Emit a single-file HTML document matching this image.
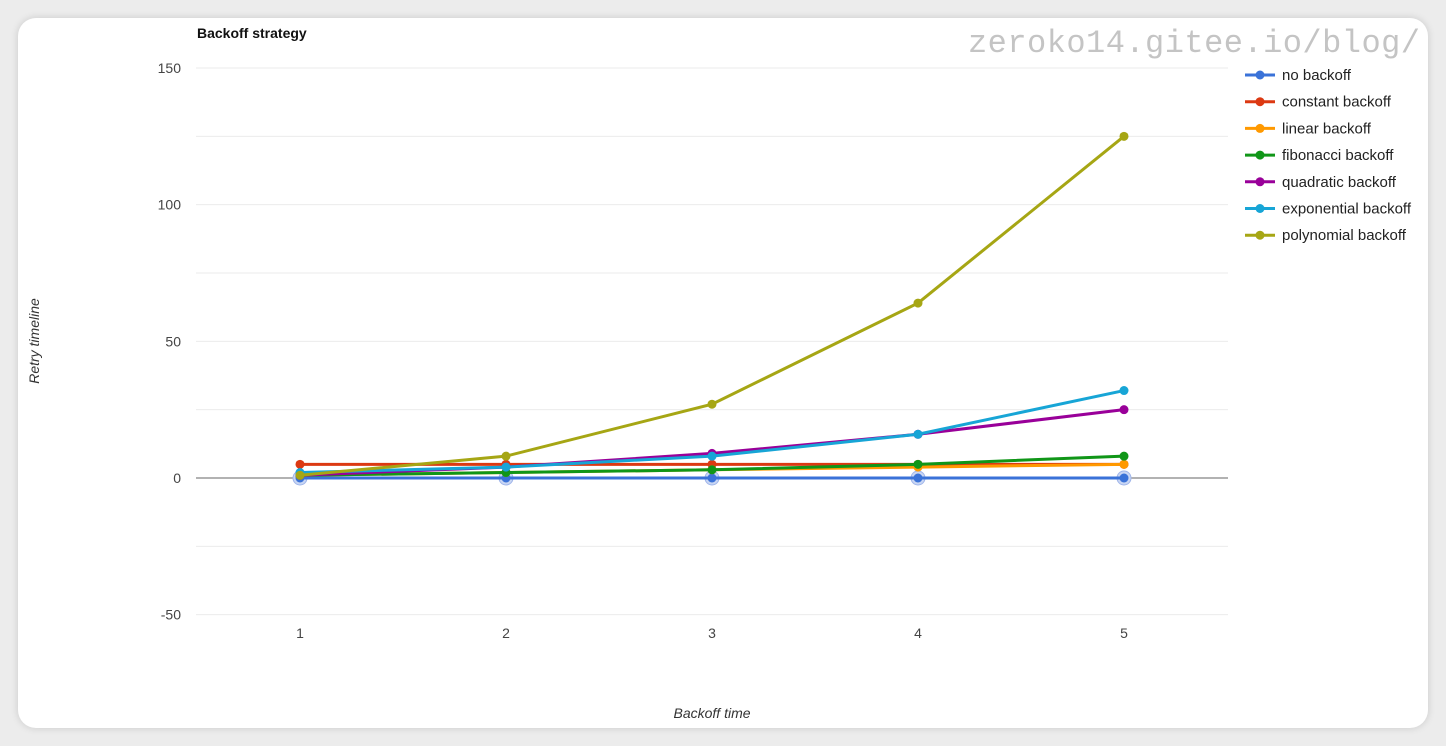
<!DOCTYPE html>
<html><head><meta charset="utf-8"><style>
body{margin:0;background:#ececec;width:1446px;height:746px;overflow:hidden;font-family:"Liberation Sans",sans-serif}
#card{position:absolute;left:18px;top:18px;width:1410px;height:710px;background:#fff;border-radius:18px;box-shadow:0 0 8px rgba(0,0,0,.15)}
</style></head><body>
<div id="card"></div>
<svg id="chart" width="1446" height="746" style="position:absolute;left:0;top:0"></svg>
<script>
const xCats=[1,2,3,4,5];
const seriesNames=["no backoff","constant backoff","linear backoff","fibonacci backoff","quadratic backoff","exponential backoff","polynomial backoff"];
const colors=["#3a72d8","#dc3912","#ff9900","#109618","#990099","#17a5d6","#a6a614"];
const noBackoff=[0,0,0,0,0];
const constantBackoff=[5,5,5,5,5];
const linearBackoff=[1,2,3,4,5];
const fibonacciBackoff=[1,2,3,5,8];
const quadraticBackoff=[1,4,9,16,25];
const exponentialBackoff=[2,4,8,16,32];
const polynomialBackoff=[1,8,27,64,125];
const yTicks=[150,100,50,0,-50];
const yGrid=[150,125,100,75,50,25,0,-25,-50];
const series=[noBackoff,constantBackoff,linearBackoff,fibonacciBackoff,quadraticBackoff,exponentialBackoff,polynomialBackoff];
const NS="http://www.w3.org/2000/svg";
const svg=document.getElementById('chart');
const X=v=>300+(v-1)*206;
const Y=v=>478-v*2.7333;
function mk(t,a,p){const e=document.createElementNS(NS,t);for(const k in a)e.setAttribute(k,a[k]);(p||svg).appendChild(e);return e;}
let t=mk('text',{x:197,y:38,'font-size':14,'font-weight':'bold',fill:'#111'});t.textContent='Backoff strategy';


let w=mk('text',{x:968,y:52,'font-size':32,fill:'#c4c4c4','font-family':'Liberation Mono,monospace',textLength:452});w.textContent='zeroko14.gitee.io/blog/';


yGrid.forEach(v=>{const l=mk('line',{x1:196,x2:1228,y1:Y(v),y2:Y(v),stroke:v===0?'#999':'#ebebeb','stroke-width':v===0?1.5:1});

});
yTicks.forEach(v=>{const e=mk('text',{x:181,y:Y(v)+5,'font-size':14,fill:'#444','text-anchor':'end'});e.textContent=v;

});
xCats.forEach(v=>{const e=mk('text',{x:X(v),y:638,'font-size':14,fill:'#444','text-anchor':'middle'});e.textContent=v;

});
let xt=mk('text',{x:712,y:718,'font-size':14,'font-style':'italic',fill:'#333','text-anchor':'middle'});xt.textContent='Backoff time';


let yt=mk('text',{x:0,y:0,'font-size':14,'font-style':'italic',fill:'#333','text-anchor':'middle',transform:'translate(39,341) rotate(-90)'});yt.textContent='Retry timeline';


noBackoff.forEach((v,i)=>{const c=mk('circle',{cx:X(xCats[i]),cy:Y(v),r:7,fill:'#c9d6f3',stroke:'#9fb5ea','stroke-width':1});

});
series.forEach((s,k)=>{
 const g=mk('g',{});
 
 
 mk('polyline',{points:s.map((v,i)=>X(xCats[i])+','+Y(v)).join(' '),fill:'none',stroke:colors[k],'stroke-width':3},g);
 s.forEach((v,i)=>{const c=mk('circle',{cx:X(xCats[i]),cy:Y(v),r:4.5,fill:colors[k]},g);
 
 });
 const ly=75+k*26.7;
 const lg=mk('g',{});
 
 
 mk('line',{x1:1245,x2:1275,y1:ly,y2:ly,stroke:colors[k],'stroke-width':3},lg);
 mk('circle',{cx:1260,cy:ly,r:4.5,fill:colors[k]},lg);
 const tx=mk('text',{x:1282,y:ly+5,'font-size':15,fill:'#222'},lg);tx.textContent=seriesNames[k];
});
</script>
</body></html>
